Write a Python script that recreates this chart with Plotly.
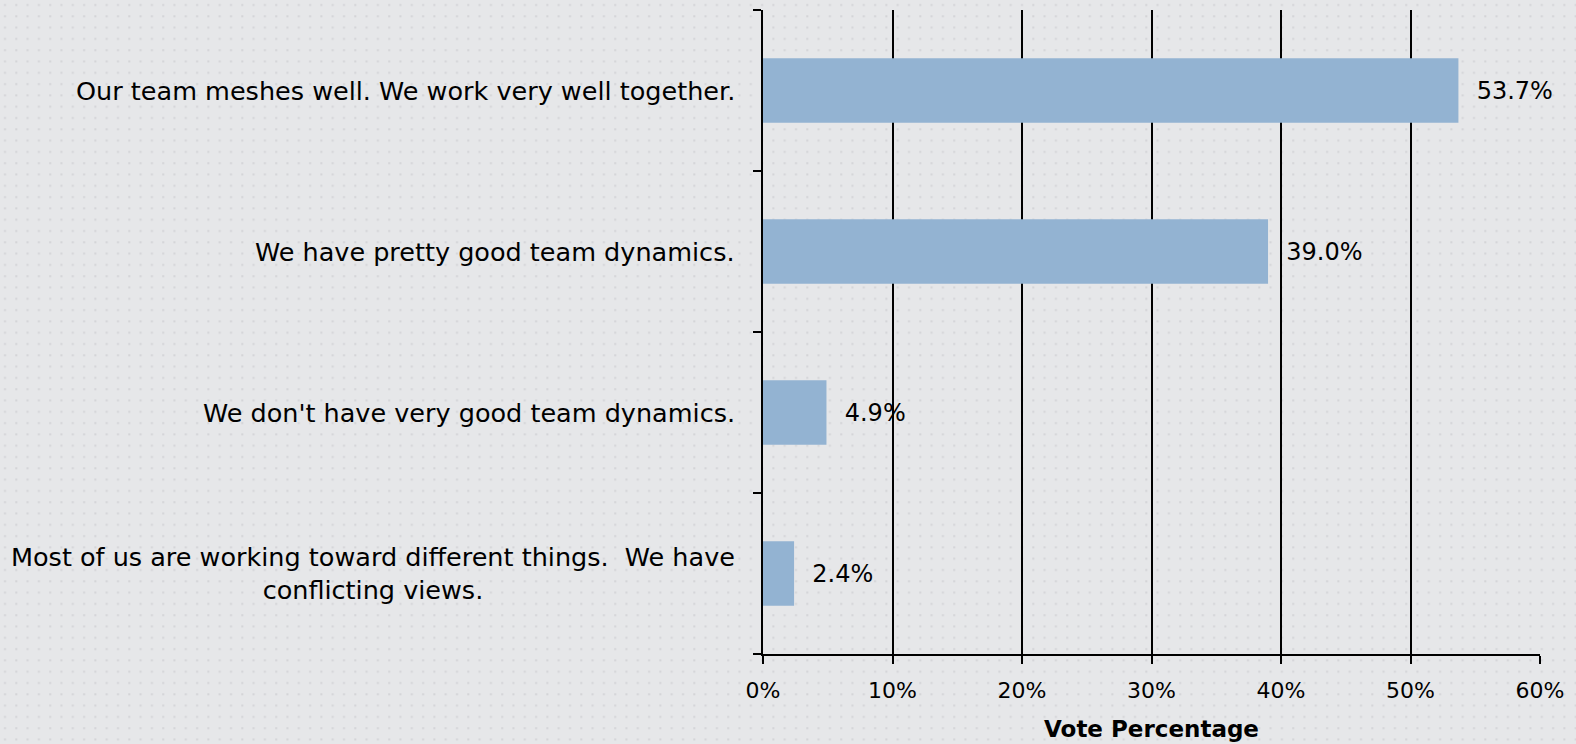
import base64

import plotly.graph_objects as go

categories = [
    "Our team meshes well. We work very well together.",
    "We have pretty good team dynamics.",
    "We don't have very good team dynamics.",
    "Most of us are working toward different things.  We have<br>conflicting views.",
]
votes = [53.7, 39.0, 4.9, 2.4]
x_ticks = [0, 10, 20, 30, 40, 50, 60]
x_tick_labels = [f"{v}%" for v in x_ticks]

FONT = "DejaVu Sans"
BG = "#e6e7e9"

# faint dotted backdrop, like the slide background
dots_svg = (
    '<svg xmlns="http://www.w3.org/2000/svg" width="1576" height="744">'
    '<defs><pattern id="d" width="11.3" height="11.3" patternUnits="userSpaceOnUse">'
    '<rect x="4" y="4" width="2" height="2" fill="#d3d4d7"/></pattern></defs>'
    f'<rect width="100%" height="100%" fill="{BG}"/>'
    '<rect width="100%" height="100%" fill="url(#d)"/></svg>'
)
dots_uri = "data:image/svg+xml;base64," + base64.b64encode(dots_svg.encode()).decode()

fig = go.Figure(go.Bar(
    x=votes,
    y=categories,
    orientation="h",
    marker=dict(color="#93b3d2", line=dict(width=0)),
    width=0.4,
    text=[f"\u00a0\u00a0{v:.1f}%" for v in votes],
    textposition="outside",
    textfont=dict(family=FONT, size=24, color="black"),
    cliponaxis=False,
    hoverinfo="x+y",
))

# category labels as annotations so the wrapped one can be centred
for cat in categories:
    fig.add_annotation(
        x=0, xref="paper", xanchor="right", xshift=-26,
        y=cat, yref="y",
        text=cat, showarrow=False, align="center",
        font=dict(family=FONT, size=25.5, color="black"),
    )

fig.add_layout_image(
    source=dots_uri, xref="paper", yref="paper",
    x=-763 / 777, y=1 + 10 / 644, sizex=1576 / 777, sizey=744 / 644,
    xanchor="left", yanchor="top", sizing="stretch", layer="below",
)

fig.update_layout(
    width=1576,
    height=744,
    margin=dict(l=763, r=36, t=10, b=90),
    paper_bgcolor=BG,
    plot_bgcolor="rgba(0,0,0,0)",
    showlegend=False,
    font=dict(family=FONT, size=24, color="black"),
    xaxis=dict(
        range=[0, 60],
        tickvals=x_ticks,
        ticktext=x_tick_labels,
        showgrid=True,
        gridcolor="black",
        gridwidth=2,
        ticks="outside",
        ticklen=8,
        tickwidth=2,
        tickcolor="black",
        showline=True,
        linecolor="black",
        linewidth=2,
        zeroline=False,
        automargin=False,
        tickfont=dict(size=22),
        ticklabelstandoff=8,
        title=dict(text="<b>Vote Percentage</b>", font=dict(size=23), standoff=18),
    ),
    yaxis=dict(
        categoryorder="array",
        categoryarray=categories[::-1],
        showline=True,
        linecolor="black",
        linewidth=2,
        ticks="outside",
        tickson="boundaries",
        ticklen=8,
        tickwidth=2,
        tickcolor="black",
        showgrid=False,
        showticklabels=False,
        automargin=False,
    ),
)
fig.write_html(
    "out.html",
    config={"displayModeBar": False},
    post_script="document.body.style.margin='0';document.body.style.background='%s';" % BG,
)
